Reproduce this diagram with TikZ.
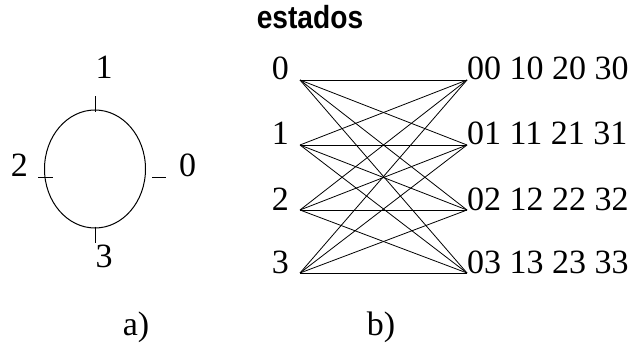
\documentclass[tikz,border=0pt]{standalone}
\usepackage{fontspec}
\setmainfont{Liberation Serif}
\newfontfamily\headfont{Liberation Sans}
\usetikzlibrary{positioning, shapes.geometric, calc}

\begin{document}
\begin{tikzpicture}[x=1pt, y=1pt,
      num/.style={inner sep=0pt, font=\fontsize{34}{38}\selectfont},
      title/.style={inner sep=0pt, font=\headfont\bfseries\fontsize{32}{36}\selectfont},
      ring/.style={draw, ellipse, line width=1pt, minimum width=101pt, minimum height=118pt, inner sep=0pt},
      tick/.style={line width=0.9pt},
      edge/.style={line width=0.8pt}]

    \useasboundingbox (0,0) rectangle (634,343);

    % ── Title ──
    \node[title, anchor=base] (head) at (310,314) {\scalebox{0.88}[1]{estados}};

    % ── a) circle of states ──
    \node[ring] (ring) at (95,174) {};
    \coordinate (tn) at ($(ring.north)+(0,13)$);
    \coordinate (tn2) at ($(ring.north)+(0,-3)$);
    \coordinate (ts) at ($(ring.south)+(0,2)$);
    \coordinate (ts2) at ($(ring.south)+(0,-14)$);
    \coordinate (tw) at (38,166);
    \coordinate (tw2) at (53,166);
    \coordinate (te) at (152,166);
    \coordinate (te2) at (166,166);

    \node[num, anchor=base] (one) at (104,264) {1};
    \node[num, anchor=base] (three) at (104,76) {3};
    \node[num, anchor=base east] (two) at (28,166) {2};
    \node[num, anchor=base west] (zero) at (179,166) {0};

    \draw[tick] (tn) -- (tn2);
    \draw[tick] (ts) -- (ts2);
    \draw[tick] (tw) -- (tw2);
    \draw[tick] (te) -- (te2);

    % ── b) states and transitions ──
    \coordinate (l0) at (300,263);
    \coordinate (l1) at (300,198);
    \coordinate (l2) at (300,133);
    \coordinate (l3) at (300,70);
    \coordinate (r0) at (467,263);
    \coordinate (r1) at (467,198);
    \coordinate (r2) at (467,133);
    \coordinate (r3) at (467,70);

    \node[num, anchor=base east] (s0) at ($(l0)+(-11,0)$) {0};
    \node[num, anchor=base east] (s1) at ($(l1)+(-11,0)$) {1};
    \node[num, anchor=base east] (s2) at ($(l2)+(-11,0)$) {2};
    \node[num, anchor=base east] (s3) at ($(l3)+(-11,0)$) {3};

    \node[num, anchor=base west] (p0) at (r0) {00 10 20 30};
    \node[num, anchor=base west] (p1) at (r1) {01 11 21 31};
    \node[num, anchor=base west] (p2) at (r2) {02 12 22 32};
    \node[num, anchor=base west] (p3) at (r3) {03 13 23 33};

    % ── Transitions ──
    \draw[edge] (l0) -- (r0);
    \draw[edge] (l0) -- (r1);
    \draw[edge] (l0) -- (r2);
    \draw[edge] (l0) -- (r3);
    \draw[edge] (l1) -- (r0);
    \draw[edge] (l1) -- (r1);
    \draw[edge] (l1) -- (r2);
    \draw[edge] (l1) -- (r3);
    \draw[edge] (l2) -- (r0);
    \draw[edge] (l2) -- (r1);
    \draw[edge] (l2) -- (r2);
    \draw[edge] (l2) -- (r3);
    \draw[edge] (l3) -- (r0);
    \draw[edge] (l3) -- (r1);
    \draw[edge] (l3) -- (r2);
    \draw[edge] (l3) -- (r3);

    % ── Captions ──
    \node[num, anchor=base] (capa) at (136,8) {a)};
    \node[num, anchor=base] (capb) at (381,8) {b)};

  \end{tikzpicture}
\end{document}
